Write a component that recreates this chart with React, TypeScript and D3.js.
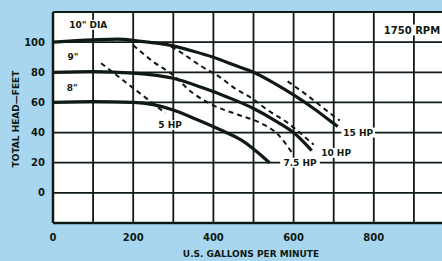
import * as React from "react";
import * as d3 from "d3";

// impeller curves (gpm, total head ft)
const dia10: [number, number][] = [
  [0, 100], [100, 101.5], [160, 102], [220, 100.5], [280, 98.5], [350, 94],
  [400, 90], [450, 85], [500, 80], [550, 73], [600, 65], [650, 56], [700, 46], [710, 44],
];
const dia9: [number, number][] = [
  [0, 80], [100, 80.5], [200, 79.5], [300, 76], [370, 70], [440, 63],
  [500, 56], [560, 47], [600, 40], [645, 28],
];
const dia8: [number, number][] = [
  [0, 60], [100, 60.5], [200, 60], [250, 58.5], [300, 55], [360, 48.5],
  [420, 41.5], [470, 35], [540, 20],
];

// horsepower lines
const hp5: [number, number][] = [[120, 86], [200, 69.5], [280, 53]];
const hp75: [number, number][] = [
  [200, 98], [250, 87], [295, 79], [350, 66], [400, 58], [460, 52], [520, 46], [560, 39], [595, 27],
];
const hp10: [number, number][] = [
  [275, 100], [320, 93], [370, 84], [415, 77], [450, 70], [500, 62], [535, 55], [585, 46.5], [615, 40], [650, 32],
];
const hp15: [number, number][] = [[585, 74], [640, 63.5], [690, 53], [715, 48]];

const gpmTicks = [0, 200, 400, 600, 800];
const headTicks = [0, 20, 40, 60, 80, 100];
const gpmGrid = d3.range(0, 1001, 100);
const headGrid = d3.range(-20, 121, 20);

const curveLabels = [
  { text: '10" DIA', gpm: 88, head: 111.5 },
  { text: '9"', gpm: 50, head: 90 },
  { text: '8"', gpm: 48, head: 69.5 },
];
const hpLabels = [
  { text: "5 HP", gpm: 292, head: 45 },
  { text: "7.5 HP", gpm: 616, head: 20 },
  { text: "10 HP", gpm: 706, head: 26.5 },
  { text: "15 HP", gpm: 761, head: 40 },
];

const W = 442;
const H = 261;
const font = "'DejaVu Sans', sans-serif";
const ink = "#0f1a12";

export default function App() {
  const x = d3.scaleLinear().domain([0, 1000]).range([53, 454]);
  const y = d3.scaleLinear().domain([-20, 120]).range([223, 12]);

  const path = d3
    .line<[number, number]>()
    .x((d) => x(d[0]))
    .y((d) => y(d[1]))
    .curve(d3.curveMonotoneX);

  const labelBox = (text: string, cx: number, cy: number, fs: number) => {
    const w = text.length * fs * 0.66 + 4;
    return <rect x={cx - w / 2} y={cy - fs * 0.55} width={w} height={fs * 1.1} fill="#fff" />;
  };

  return (
    <svg
      width={W}
      height={H}
      style={{ position: "absolute", left: 0, top: 0, display: "block" }}
      fontFamily={font}
      fontWeight="bold"
    >
      <rect width={W} height={H} fill="#a9d6ef" />
      <rect x={x(0)} y={y(120)} width={W - x(0)} height={y(-20) - y(120)} fill="#fff" />

      {gpmGrid.map((g) => (
        <line key={"v" + g} x1={x(g)} x2={x(g)} y1={y(120)} y2={y(-20)} stroke={ink} strokeWidth={g === 0 ? 2.5 : 1.8} />
      ))}
      {headGrid.map((h) => (
        <line key={"h" + h} x1={x(0)} x2={W} y1={y(h)} y2={y(h)} stroke={ink} strokeWidth={h === -20 ? 2.5 : 1.8} />
      ))}

      {[hp5, hp75, hp10, hp15].map((d, i) => (
        <path key={"hp" + i} d={path(d) || ""} fill="none" stroke={ink} strokeWidth={2} strokeDasharray="5 4" />
      ))}
      {[dia10, dia9, dia8].map((d, i) => (
        <path key={"dia" + i} d={path(d) || ""} fill="none" stroke={ink} strokeWidth={3.2} />
      ))}

      {curveLabels.map((l) => (
        <g key={l.text}>
          {labelBox(l.text, x(l.gpm), y(l.head), 9)}
          <text x={x(l.gpm)} y={y(l.head)} textAnchor="middle" dominantBaseline="central" fontSize={9} fill={ink}>
            {l.text}
          </text>
        </g>
      ))}
      {hpLabels.map((l) => (
        <g key={l.text}>
          {labelBox(l.text, x(l.gpm), y(l.head), 9)}
          <text x={x(l.gpm)} y={y(l.head)} textAnchor="middle" dominantBaseline="central" fontSize={9} fill={ink}>
            {l.text}
          </text>
        </g>
      ))}

      {labelBox("1750 RPM", 412, 30, 10)}
      <text x={412} y={30} textAnchor="middle" dominantBaseline="central" fontSize={10} fill={ink}>
        1750 RPM
      </text>

      {headTicks.map((h) => (
        <text key={"yt" + h} x={45} y={y(h)} textAnchor="end" dominantBaseline="central" fontSize={10} fill={ink}>
          {h}
        </text>
      ))}
      {gpmTicks.map((g) => (
        <text key={"xt" + g} x={x(g)} y={237} textAnchor="middle" dominantBaseline="central" fontSize={10} fill={ink}>
          {g}
        </text>
      ))}

      <text x={251} y={254} textAnchor="middle" dominantBaseline="central" fontSize={9} fill={ink}>
        U.S. GALLONS PER MINUTE
      </text>
      <text
        transform={`translate(16,119) rotate(-90)`}
        textAnchor="middle"
        dominantBaseline="central"
        fontSize={9}
        fill={ink}
      >
        TOTAL HEAD—FEET
      </text>
    </svg>
  );
}
